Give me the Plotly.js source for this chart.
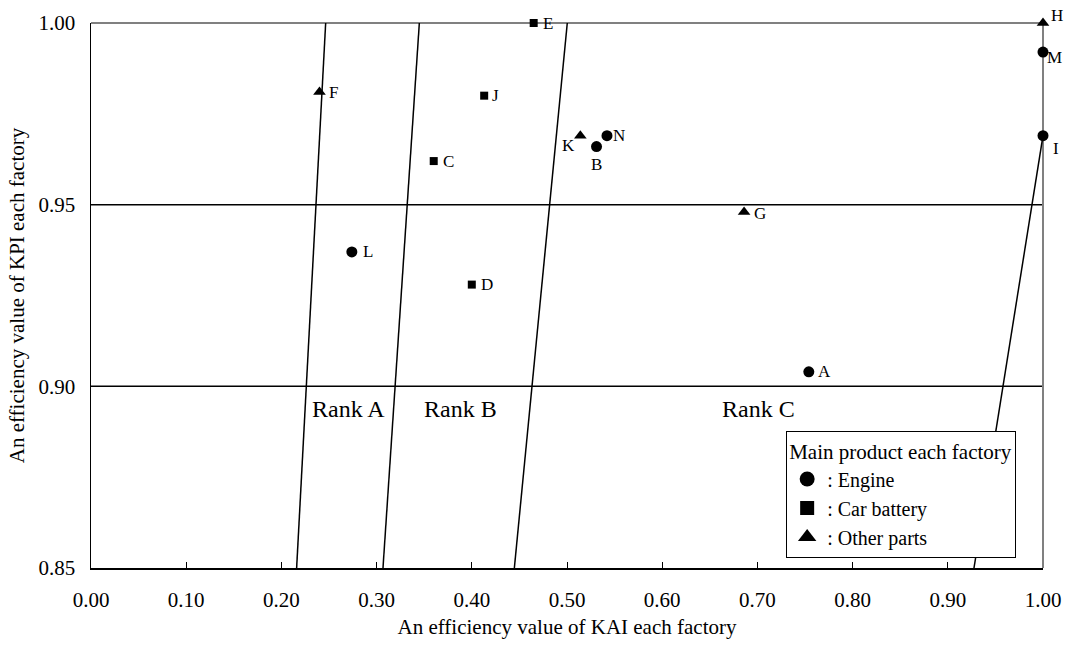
<!DOCTYPE html>
<html>
<head>
<meta charset="utf-8">
<script src="https://cdn.plot.ly/plotly-3.0.1.min.js"></script>
<style>html,body{margin:0;padding:0;background:#fff;}</style>
</head>
<body>
<div id="chart" style="width:1069px;height:650px;"></div>
<script>
// Engine factories (circles)
const engineNames = ["A", "B", "I", "L", "M", "N"];
const engineKAI   = [0.754, 0.531, 1.000, 0.274, 1.000, 0.542];
const engineKPI   = [0.904, 0.966, 0.969, 0.937, 0.992, 0.969];
// Car battery factories (squares)
const batteryNames = ["C", "D", "E", "J"];
const batteryKAI   = [0.360, 0.400, 0.465, 0.413];
const batteryKPI   = [0.962, 0.928, 1.000, 0.980];
// Other parts factories (triangles)
const otherNames = ["F", "G", "H", "K"];
const otherKAI   = [0.240, 0.686, 1.000, 0.514];
const otherKPI   = [0.981, 0.948, 1.000, 0.969];

// Rank boundary lines (KAI at lower and upper KPI end)
const boundary1KAI = [0.216, 0.2465];  const boundary1KPI = [0.85, 1.00];
const boundary2KAI = [0.3067, 0.3449]; const boundary2KPI = [0.85, 1.00];
const boundary3KAI = [0.4447, 0.5003]; const boundary3KPI = [0.85, 1.00];
const boundary4KAI = [0.9275, 1.000];  const boundary4KPI = [0.85, 0.969];

// Horizontal KPI thresholds
const kpiThresholds = [0.90, 0.95];

// Rank labels
const rankLabels = ["Rank A", "Rank B", "Rank C"];
const rankKAI = [0.271, 0.388, 0.701];
const rankKPI = [0.8938, 0.8938, 0.8938];

const xTickVals = [0.0,0.1,0.2,0.3,0.4,0.5,0.6,0.7,0.8,0.9,1.0];
const xTickText = ["0.00","0.10","0.20","0.30","0.40","0.50","0.60","0.70","0.80","0.90","1.00"];
const yTickVals = [0.85,0.90,0.95,1.00];
const yTickText = ["0.85","0.90","0.95","1.00"];

const FONT = "Liberation Serif, Times New Roman, serif";

// label placement style per point: [xanchor, xshift, yshift]
const labelStyle = {
  A: ["left", 7, 0], B: ["center", 0, -18], I: ["left", 8, -13], L: ["left", 9, 0],
  M: ["left", 2, -5], N: ["left", 4, 0], C: ["left", 7, 0], D: ["left", 7, 0],
  E: ["left", 7, 0], J: ["left", 6, 0], F: ["left", 8, 0], G: ["left", 8, -2],
  H: ["left", 6, 8], K: ["right", -3, -10]
};

function lineTrace(x, y) {
  return {x: x, y: y, mode: "lines", type: "scatter", showlegend: false,
          hoverinfo: "skip", line: {color: "#000", width: 1.5}, cliponaxis: false};
}
function ptTrace(x, y, symbol, size) {
  return {x: x, y: y, mode: "markers", type: "scatter",
          showlegend: false, cliponaxis: false,
          marker: {symbol: symbol, size: size, color: "#000"}};
}
function legendTrace(name, symbol, size) {
  return {x: [null], y: [null], mode: "markers", type: "scatter", name: name,
          marker: {symbol: symbol, size: size, color: "#000"}};
}

const data = [
  lineTrace(boundary1KAI, boundary1KPI),
  lineTrace(boundary2KAI, boundary2KPI),
  lineTrace(boundary3KAI, boundary3KPI),
  lineTrace(boundary4KAI, boundary4KPI),
  ptTrace(engineKAI, engineKPI, "circle", 11),
  ptTrace(batteryKAI, batteryKPI, "square", 8),
  ptTrace(otherKAI, otherKPI, "triangle-up", 11),
  legendTrace(": Engine", "circle", 15),
  legendTrace(": Car battery", "square", 14),
  legendTrace(": Other parts", "triangle-up", 16)
];

const shapes = [];
kpiThresholds.forEach(v => shapes.push({type: "line", xref: "paper", yref: "y", x0: 0, x1: 1, y0: v, y1: v,
  line: {color: "#000", width: 1.5}, layer: "below"}));
shapes.push({type: "line", xref: "paper", yref: "paper", x0: 0, x1: 1, y0: 1, y1: 1, line: {color: "#808080", width: 2}, layer: "below"});
shapes.push({type: "line", xref: "paper", yref: "paper", x0: 1, x1: 1, y0: 0, y1: 1, line: {color: "#808080", width: 2}, layer: "below"});

const annotations = rankLabels.map((t, i) => ({
  x: rankKAI[i], y: rankKPI[i], xref: "x", yref: "y", text: t, showarrow: false,
  font: {family: FONT, size: 24, color: "#000"}
}));

function addLabels(names, xs, ys) {
  names.forEach((n, i) => {
    const s = labelStyle[n];
    annotations.push({x: xs[i], y: ys[i], xref: "x", yref: "y", text: n, showarrow: false,
      xanchor: s[0], yanchor: "middle", xshift: s[1], yshift: s[2],
      font: {family: FONT, size: 17, color: "#000"}});
  });
}
addLabels(engineNames, engineKAI, engineKPI);
addLabels(batteryNames, batteryKAI, batteryKPI);
addLabels(otherNames, otherKAI, otherKPI);

const layout = {
  width: 1069, height: 650,
  margin: {l: 91, r: 26, t: 23, b: 82},
  paper_bgcolor: "#fff", plot_bgcolor: "#fff",
  font: {family: FONT, size: 21, color: "#000"},
  showlegend: true,
  legend: {
    x: 0.73, y: 0.2514, xanchor: "left", yanchor: "top",
    bgcolor: "#fff", bordercolor: "#000", borderwidth: 1.2,
    title: {text: "Main product each factory", font: {family: FONT, size: 21}},
    font: {family: FONT, size: 20}, itemwidth: 30, tracegroupgap: 0
  },
  xaxis: {
    range: [0, 1], tickvals: xTickVals, ticktext: xTickText,
    ticks: "inside", ticklen: 6, tickwidth: 1, tickcolor: "#000",
    showline: true, linecolor: "#000", linewidth: 1.5, showgrid: false, zeroline: false,
    tickfont: {family: FONT, size: 21}, ticklabelstandoff: 12,
    title: {text: "An efficiency value of KAI each factory", font: {family: FONT, size: 21}, standoff: 8}
  },
  yaxis: {
    range: [0.85, 1.0], tickvals: yTickVals, ticktext: yTickText,
    ticks: "inside", ticklen: 8, tickwidth: 1.5, tickcolor: "#000",
    showline: true, linecolor: "#000", linewidth: 1.5, showgrid: false, zeroline: false,
    tickfont: {family: FONT, size: 21}, ticklabelstandoff: 10,
    title: {text: "An efficiency value of KPI each factory", font: {family: FONT, size: 21}, standoff: 8}
  },
  shapes: shapes,
  annotations: annotations
};

Plotly.newPlot("chart", data, layout, {displayModeBar: false, staticPlot: true});
</script>
</body>
</html>
